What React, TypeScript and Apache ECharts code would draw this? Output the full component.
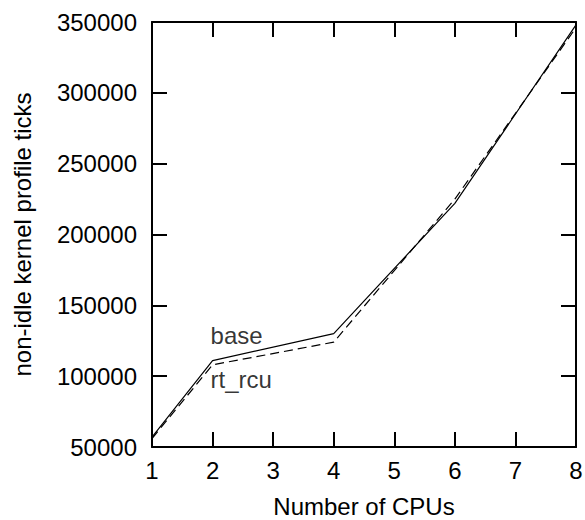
import React, { useEffect, useRef } from "react";
import * as echarts from "echarts";

const cpus = [1, 2, 4, 6, 8];
const baseTicks = [57000, 111000, 130000, 222000, 348000];
const rtRcuTicks = [56000, 108000, 124000, 225000, 346000];
const labelBase = [2, 129000];
const labelRtRcu = [2, 98000];
const FONT = "Liberation Sans";

export default function App() {
  const ref = useRef<HTMLDivElement>(null);
  useEffect(() => {
    if (!ref.current) return;
    const chart = echarts.init(ref.current, null, { renderer: "svg" });
    const axisLine = { show: true, lineStyle: { color: "#000", width: 2 } };
    const tick = { show: true, inside: true, length: 15, lineStyle: { color: "#000", width: 2 } };
    chart.setOption({
      animation: false,
      backgroundColor: "#fff",
      grid: { left: 152, right: 9, top: 22, bottom: 73, outerBoundsMode: "none", containLabel: false },
      xAxis: [
        {
          type: "value",
          min: 1,
          max: 8,
          interval: 1,
          name: "Number of CPUs",
          nameLocation: "middle",
          nameGap: 47,
          nameTextStyle: { fontFamily: FONT, fontSize: 24, color: "#000" },
          axisLine,
          axisTick: tick,
          axisLabel: { fontFamily: FONT, fontSize: 24, color: "#000", margin: 11, formatter: (v: number) => String(v) },
          splitLine: { show: false },
        },
        {
          type: "value",
          position: "top",
          min: 1,
          max: 8,
          interval: 1,
          axisLine,
          axisTick: tick,
          axisLabel: { show: false },
          splitLine: { show: false },
        },
      ],
      yAxis: [
        {
          type: "value",
          min: 50000,
          max: 350000,
          interval: 50000,
          name: "non-idle kernel profile ticks",
          nameLocation: "middle",
          nameGap: 118,
          nameTextStyle: { fontFamily: FONT, fontSize: 24, color: "#000" },
          axisLine,
          axisTick: tick,
          axisLabel: { fontFamily: FONT, fontSize: 24, color: "#000", margin: 15, formatter: (v: number) => String(v) },
          splitLine: { show: false },
        },
        {
          type: "value",
          position: "right",
          min: 50000,
          max: 350000,
          interval: 50000,
          axisLine,
          axisTick: tick,
          axisLabel: { show: false },
          splitLine: { show: false },
        },
      ],
      series: [
        {
          name: "base",
          type: "line",
          data: cpus.map((c, i) => [c, baseTicks[i]]),
          showSymbol: false,
          lineStyle: { color: "#000", width: 1.2, type: "solid" },
          z: 3,
        },
        {
          name: "rt_rcu",
          type: "line",
          data: cpus.map((c, i) => [c, rtRcuTicks[i]]),
          showSymbol: false,
          lineStyle: { color: "#000", width: 1.2, type: [9, 5] },
          z: 3,
        },
        {
          type: "scatter",
          symbolSize: 0,
          data: [
            { value: labelBase, label: { formatter: "base" } },
            { value: labelRtRcu, label: { formatter: "rt_rcu" } },
          ],
          label: {
            show: true,
            position: "right",
            distance: -2,
            fontFamily: FONT,
            fontSize: 24,
            color: "#000",
          },
          silent: true,
        },
      ],
    });
    return () => chart.dispose();
  }, []);
  return <div ref={ref} style={{ position: "fixed", left: 0, top: 0, width: 585, height: 520 }} />;
}
